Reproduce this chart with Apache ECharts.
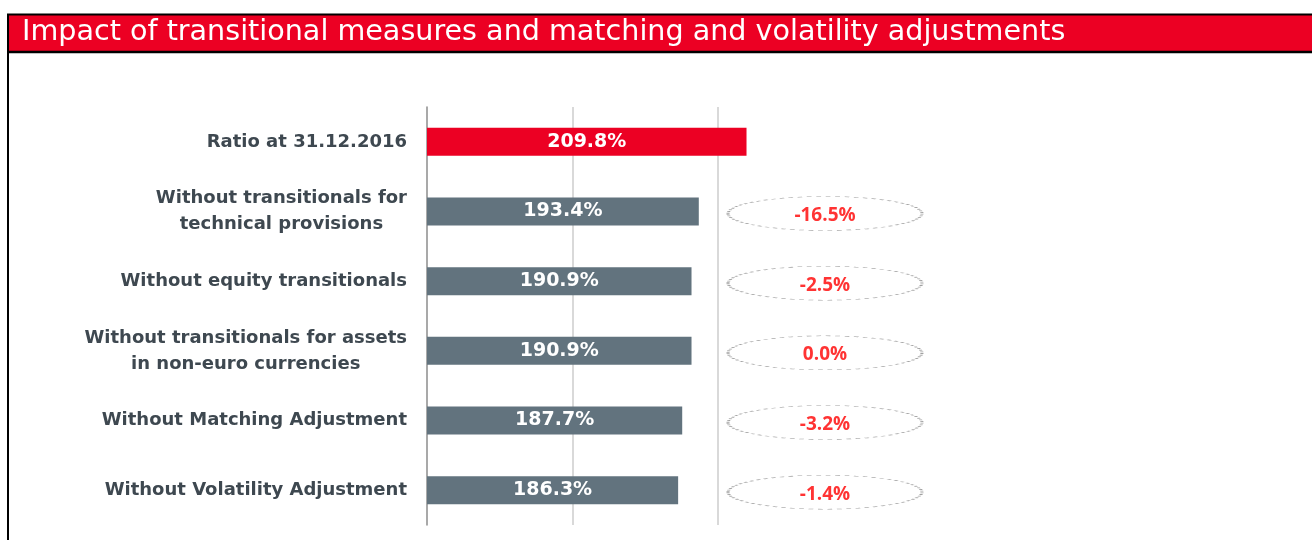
<!DOCTYPE html>
<html>
<head>
<meta charset="utf-8">
<script src="https://cdn.jsdelivr.net/npm/echarts@6/dist/echarts.min.js"></script>
<style>
  html, body { margin: 0; padding: 0; background: #fff; }
  #main { width: 1312px; height: 540px; }
</style>
</head>
<body>
<div id="main"></div>
<script>
var categories = [
    'Ratio at 31.12.2016',
    'Without transitionals for\ntechnical provisions',
    'Without equity transitionals',
    'Without transitionals for assets\nin non-euro currencies',
    'Without Matching Adjustment',
    'Without Volatility Adjustment'
];
var ratios = [209.8, 193.4, 190.9, 190.9, 187.7, 186.3];
var deltas = [null, -16.5, -2.5, 0.0, -3.2, -1.4];
var axisMin = 100, axisMax = 250, axisStep = 50;

var RED = '#ec0023';
var GREY = '#62737e';

var myChart = echarts.init(document.getElementById('main'));

// ellipse markers only where there is a change
var deltaPoints = [];
deltas.forEach(function (d, i) {
    if (d !== null) deltaPoints.push([0.5, i, d]);
});

var option = {
    animation: false,
    title: {
        text: 'Impact of transitional measures and matching and volatility adjustments',
        left: 22,
        top: 15,
        padding: 0,
        textStyle: {
            color: '#fff',
            fontFamily: 'DejaVu Sans',
            fontWeight: 'normal',
            fontSize: 28.6,
            lineHeight: 36
        }
    },
    graphic: [
        { type: 'rect', z: -1, shape: { x: 8, y: 14, width: 1304, height: 38 }, style: { fill: RED } },
        { type: 'line', shape: { x1: 7, y1: 14.5, x2: 1312, y2: 14.5 }, style: { stroke: '#000', lineWidth: 2 } },
        { type: 'line', shape: { x1: 7, y1: 52, x2: 1312, y2: 52 }, style: { stroke: '#000', lineWidth: 2.5 } },
        { type: 'line', shape: { x1: 8, y1: 14, x2: 8, y2: 540 }, style: { stroke: '#000', lineWidth: 2 } }
    ],
    grid: [
        { left: 427, right: 448.5, top: 107, bottom: 15 },
        { left: 720, width: 210, top: 107, bottom: 15 }
    ],
    xAxis: [
        {
            type: 'value', gridIndex: 0,
            min: axisMin, max: axisMax, interval: axisStep,
            axisLabel: { show: false },
            axisLine: { show: false },
            axisTick: { show: false },
            splitLine: { showMinLine: false, showMaxLine: false, lineStyle: { color: '#d9d9d9', width: 2 } }
        },
        { type: 'value', gridIndex: 1, min: 0, max: 1, show: false }
    ],
    yAxis: [
        {
            type: 'category', gridIndex: 0, inverse: true,
            data: categories,
            axisTick: { show: false },
            axisLine: { onZero: false, lineStyle: { color: '#8c8c8c', width: 1.5 } },
            axisLabel: {
                margin: 20,
                align: 'right',
                formatter: function (v) { return '{c|' + v + '}'; },
                rich: {
                    c: {
                        align: 'center',
                        color: '#3e4850',
                        fontFamily: 'DejaVu Sans',
                        fontWeight: 'bold',
                        fontSize: 18,
                        lineHeight: 26
                    }
                }
            }
        },
        { type: 'category', gridIndex: 1, inverse: true, data: categories, show: false }
    ],
    series: [
        {
            type: 'bar',
            xAxisIndex: 0, yAxisIndex: 0,
            barWidth: 28,
            data: ratios.map(function (v, i) {
                return { value: v, itemStyle: { color: i === 0 ? RED : GREY } };
            }),
            label: {
                show: true,
                position: 'inside',
                color: '#fff',
                fontFamily: 'DejaVu Sans',
                fontWeight: 'bold',
                fontSize: 19,
                formatter: function (p) { return p.value.toFixed(1) + '%'; }
            }
        },
        {
            type: 'scatter',
            xAxisIndex: 1, yAxisIndex: 1,
            z: 5,
            symbol: 'path://M0,20A40,20 0 1,1 80,20A40,20 0 1,1 0,20Z',
            symbolSize: [194, 34],
            symbolOffset: [0, 2],
            itemStyle: {
                color: 'rgba(255,255,255,0)',
                borderColor: '#8a8a8a',
                borderWidth: 1.3,
                borderType: [2, 2]
            },
            data: deltaPoints,
            label: {
                show: true,
                position: 'inside',
                offset: [0, 2],
                color: '#ff0000',
                fontFamily: 'Open Sans',
                fontWeight: 'bold',
                fontSize: 19,
                formatter: function (p) { return p.value[2].toFixed(1) + '%'; }
            }
        }
    ]
};

myChart.setOption(option);
</script>
</body>
</html>
